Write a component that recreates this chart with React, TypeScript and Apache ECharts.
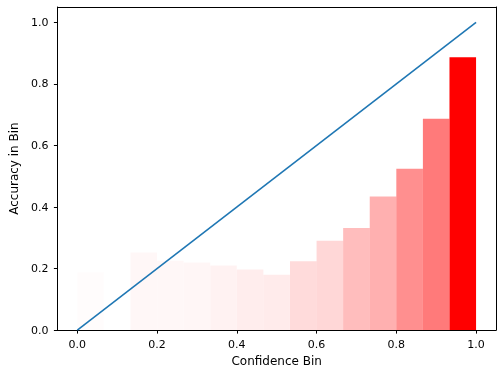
import React, { useEffect, useRef } from "react";
import * as echarts from "echarts";

// 15 equal-width confidence bins
const NUM_BINS = 15;
const binAccuracy = [0.188, 0, 0.252, 0.225, 0.22, 0.21, 0.197, 0.18, 0.224, 0.29, 0.332, 0.434, 0.524, 0.687, 0.887];
const binAlpha = [0.012, 0, 0.03, 0.03, 0.035, 0.05, 0.07, 0.08, 0.14, 0.155, 0.26, 0.31, 0.44, 0.52, 1.0];
const diagonal = [[0, 0], [1, 1]];
const tickValues = [0, 0.2, 0.4, 0.6, 0.8, 1.0];

export default function App() {
  const ref = useRef<HTMLDivElement>(null);
  useEffect(() => {
    if (!ref.current) return;
    const chart = echarts.init(ref.current, null, { renderer: "svg" });
    const barData = binAccuracy.map((acc, i) => [i / NUM_BINS, (i + 1) / NUM_BINS, acc, binAlpha[i]]);
    const font = "DejaVu Sans";
    const fs = 11;
    const tfs = 12;
    const frameAxis = {
      type: "value",
      min: 0,
      max: 1,
      axisLine: { show: true, onZero: false, lineStyle: { color: "#000", width: 1 } },
      axisTick: { show: false },
      axisLabel: { show: false },
      splitLine: { show: false },
    };
    chart.setOption({
      animation: false,
      grid: { left: 56, right: 7, top: 7, bottom: 37 },
      xAxis: [
        {
          type: "value",
          min: -0.05,
          max: 1.05,
          name: "Confidence Bin",
          nameLocation: "middle",
          nameGap: 23,
          nameTextStyle: { fontFamily: font, fontSize: tfs, color: "#000" },
          axisLine: { show: true, onZero: false, lineStyle: { color: "#000", width: 1 } },
          axisTick: { show: true, length: 3.5, customValues: tickValues, lineStyle: { color: "#000" } },
          axisLabel: { customValues: tickValues, margin: 9, fontFamily: font, fontSize: fs, color: "#000", formatter: (v: number) => v.toFixed(1) },
          splitLine: { show: false },
        },
        { ...frameAxis, position: "top" },
      ],
      yAxis: [
        {
          type: "value",
          min: 0,
          max: 1.05,
          name: "Accuracy in Bin",
          nameLocation: "middle",
          nameGap: 31,
          nameTextStyle: { fontFamily: font, fontSize: tfs, color: "#000" },
          axisLine: { show: true, onZero: false, lineStyle: { color: "#000", width: 1 } },
          axisTick: { show: true, length: 3.5, customValues: tickValues, lineStyle: { color: "#000" } },
          axisLabel: { customValues: tickValues, margin: 9, fontFamily: font, fontSize: fs, color: "#000", formatter: (v: number) => v.toFixed(1) },
          splitLine: { show: false },
        },
        { ...frameAxis, position: "right" },
      ],
      series: [
        {
          type: "custom",
          data: barData,
          renderItem: (params: any, api: any) => {
            const x0 = api.value(0);
            const x1 = api.value(1);
            const h = api.value(2);
            const a = api.value(3);
            const p0 = api.coord([x0, 0]);
            const p1 = api.coord([x1, h]);
            return {
              type: "rect",
              shape: { x: p0[0], y: p1[1], width: p1[0] - p0[0], height: p0[1] - p1[1] },
              style: { fill: `rgba(255,0,0,${a})`, stroke: "none" },
            };
          },
          z: 1,
        },
        {
          type: "line",
          data: diagonal,
          showSymbol: false,
          symbol: "none",
          lineStyle: { color: "#1f77b4", width: 1.6 },
          z: 2,
        },
      ],
    });
    return () => chart.dispose();
  }, []);
  return <div ref={ref} style={{ position: "fixed", left: 0, top: 0, width: 503, height: 372 }} />;
}
